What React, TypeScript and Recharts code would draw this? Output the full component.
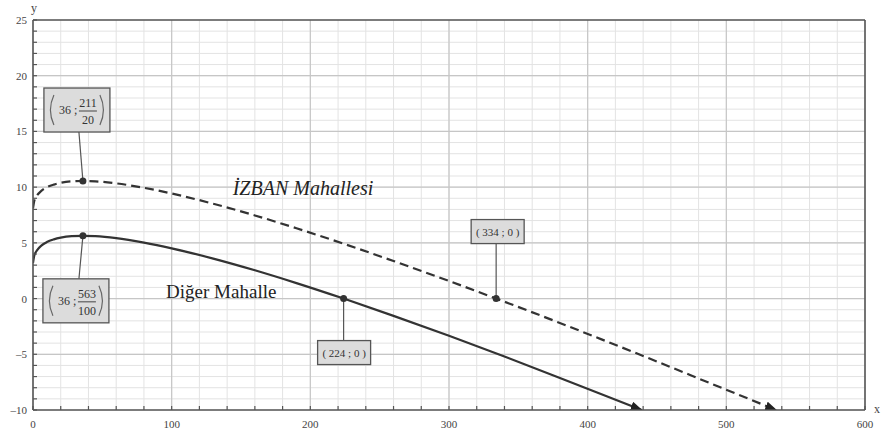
import React from "react";
import {
  LineChart,
  Line,
  XAxis,
  YAxis,
  CartesianGrid,
  ReferenceLine,
  ReferenceDot,
} from "recharts";

// Diğer Mahalle (solid)
const digerX = [0, 1, 3, 6, 10, 15, 20, 28, 36, 45, 60, 80, 100, 130, 160, 190, 224, 260, 300, 340, 380, 410, 439];
const digerY = [3.2, 3.88, 4.35, 4.75, 5.07, 5.31, 5.47, 5.6, 5.63, 5.6, 5.42, 5.02, 4.51, 3.59, 2.54, 1.39, 0, -1.55, -3.34, -5.2, -7.12, -8.58, -10];

// İZBAN Mahallesi (dashed)
const izbanX = [0, 1, 3, 6, 10, 15, 20, 28, 36, 45, 60, 80, 100, 130, 160, 190, 224, 260, 300, 334, 370, 410, 450, 490, 536];
const izbanY = [8.1, 8.8, 9.27, 9.67, 9.99, 10.23, 10.39, 10.52, 10.55, 10.52, 10.34, 9.94, 9.43, 8.51, 7.46, 6.31, 4.92, 3.37, 1.58, 0, -1.71, -3.66, -5.65, -7.68, -10];

const xLabels = [0, 100, 200, 300, 400, 500, 600];
const yLabels = [-10, -5, 0, 5, 10, 15, 20, 25];
const xMinor = Array.from({ length: 31 }, (_, i) => i * 20);
const yMinor = Array.from({ length: 36 }, (_, i) => i - 10);

const digerData = digerX.map((x, i) => ({ x, y: digerY[i] }));
const izbanData = izbanX.map((x, i) => ({ x, y: izbanY[i] }));

const FONT = "'Liberation Serif', 'DejaVu Serif', serif";
const AXIS = "#555";

const XTick = (p: any) => {
  const { x, y, payload } = p;
  const v = payload.value;
  return (
    <g>
      <line x1={x} x2={x} y1={y} y2={y - 4} stroke={AXIS} strokeWidth={1.2} />
      {xLabels.includes(v) && (
        <text x={x} y={y + 18} textAnchor="middle" fontSize={11} fontFamily={FONT} fill="#444">
          {v}
        </text>
      )}
    </g>
  );
};

const YTick = (p: any) => {
  const { x, y, payload } = p;
  const v = payload.value;
  return (
    <g>
      <line x1={x} x2={x + 4} y1={y} y2={y} stroke={AXIS} strokeWidth={1.2} />
      {yLabels.includes(v) && (
        <text x={x - 6} y={y + 4} textAnchor="end" fontSize={11} fontFamily={FONT} fill="#444">
          {v < 0 ? "\u2013" + Math.abs(v) : v}
        </text>
      )}
    </g>
  );
};

const FracBox = ({ left, top, whole, num, den }: any) => (
  <g fontFamily={FONT} fill="#333">
    <rect x={left} y={top} width={66} height={44} fill="#dcdcdc" stroke="#555" strokeWidth={1.3} />
    <path d={`M${left + 10},${top + 7} Q${left + 3},${top + 22} ${left + 10},${top + 37}`} stroke="#666" strokeWidth={1.2} fill="none" />
    <path d={`M${left + 56},${top + 7} Q${left + 63},${top + 22} ${left + 56},${top + 37}`} stroke="#666" strokeWidth={1.2} fill="none" />
    <text x={left + 15} y={top + 26} fontSize={12}>{whole} ;</text>
    <text x={left + 44} y={top + 19} fontSize={12} textAnchor="middle">{num}</text>
    <line x1={left + 35} x2={left + 53} y1={top + 23} y2={top + 23} stroke="#444" strokeWidth={1} />
    <text x={left + 44} y={top + 36} fontSize={12} textAnchor="middle">{den}</text>
  </g>
);

const SmallBox = ({ left, top, text }: any) => (
  <g fontFamily={FONT}>
    <rect x={left} y={top} width={53} height={24} fill="#dcdcdc" stroke="#555" strokeWidth={1.3} />
    <text x={left + 26.5} y={top + 16} fontSize={11} textAnchor="middle" fill="#333">{text}</text>
  </g>
);

const Pt = ({ cx, cy }: any) => <circle cx={cx} cy={cy} r={3.5} fill="#333" />;

const izbanMax = (p: any) => (
  <g>
    <line x1={p.cx - 4} y1={p.cy - 49} x2={p.cx} y2={p.cy} stroke="#555" strokeWidth={1.2} />
    <Pt cx={p.cx} cy={p.cy} />
    <FracBox left={p.cx - 39} top={p.cy - 93} whole="36" num="211" den="20" />
  </g>
);

const digerMax = (p: any) => (
  <g>
    <line x1={p.cx - 4} y1={p.cy + 43} x2={p.cx} y2={p.cy} stroke="#555" strokeWidth={1.2} />
    <Pt cx={p.cx} cy={p.cy} />
    <FracBox left={p.cx - 40} top={p.cy + 43} whole="36" num="563" den="100" />
  </g>
);

const digerZero = (p: any) => (
  <g>
    <line x1={p.cx} y1={p.cy + 42} x2={p.cx} y2={p.cy} stroke="#555" strokeWidth={1.2} />
    <Pt cx={p.cx} cy={p.cy} />
    <SmallBox left={p.cx - 26} top={p.cy + 42} text="( 224 ; 0 )" />
  </g>
);

const izbanZero = (p: any) => (
  <g>
    <line x1={p.cx} y1={p.cy - 56} x2={p.cx} y2={p.cy} stroke="#555" strokeWidth={1.2} />
    <Pt cx={p.cx} cy={p.cy} />
    <SmallBox left={p.cx - 25} top={p.cy - 79} text="( 334 ; 0 )" />
  </g>
);

const textAt = (label: string, italic: boolean) => (p: any) => (
  <text x={p.cx} y={p.cy} fontSize={italic ? 20 : 19} fontStyle={italic ? "italic" : "normal"} fontFamily={FONT} fill="#222">
    {label}
  </text>
);

const axisName = (label: string, dx: number, dy: number) => (p: any) => (
  <text x={p.cx + dx} y={p.cy + dy} fontSize={12} fontFamily={FONT} fill="#444">
    {label}
  </text>
);

export default function App() {
  return (
    <div style={{ position: "absolute", left: 0, top: 0 }}>
      <LineChart width={888} height={429} margin={{ top: 20, right: 23, bottom: 5, left: 8 }}>
        <defs>
          <marker id="arrow" markerUnits="userSpaceOnUse" markerWidth={12} markerHeight={9} refX={11} refY={4.5} orient="auto">
            <path d="M0,0 L12,4.5 L0,9 z" fill="#222" />
          </marker>
        </defs>
        <CartesianGrid stroke="#e3e3e3" strokeWidth={1} />
        {[100, 200, 300, 400, 500].map((v) => (
          <ReferenceLine key={"vx" + v} x={v} stroke="#c6c6c6" strokeWidth={1.2} />
        ))}
        {[-5, 0, 5, 10, 15, 20].map((v) => (
          <ReferenceLine key={"hy" + v} y={v} stroke="#c6c6c6" strokeWidth={1.2} />
        ))}
        <ReferenceLine y={25} stroke={AXIS} strokeWidth={1.6} />
        <ReferenceLine x={600} stroke={AXIS} strokeWidth={1.6} />
        <XAxis
          type="number"
          dataKey="x"
          domain={[0, 600]}
          ticks={xMinor}
          interval={0}
          allowDataOverflow
          height={14}
          tickSize={0}
          tickMargin={0}
          tickLine={false}
          tick={<XTick />}
          axisLine={{ stroke: AXIS, strokeWidth: 1.6 }}
        />
        <YAxis
          type="number"
          domain={[-10, 25]}
          ticks={yMinor}
          interval={0}
          allowDataOverflow
          width={25}
          tickSize={0}
          tickMargin={0}
          tickLine={false}
          tick={<YTick />}
          axisLine={{ stroke: AXIS, strokeWidth: 1.6 }}
        />
        <Line
          data={izbanData}
          dataKey="y"
          type="monotone"
          stroke="#333"
          strokeWidth={2.2}
          strokeDasharray="9 5"
          dot={false}
          activeDot={false}
          markerEnd="url(#arrow)"
          isAnimationActive={false}
        />
        <Line
          data={digerData}
          dataKey="y"
          type="monotone"
          stroke="#333"
          strokeWidth={2.2}
          dot={false}
          activeDot={false}
          markerEnd="url(#arrow)"
          isAnimationActive={false}
        />
        <ReferenceDot x={36} y={10.55} r={3.5} shape={izbanMax} />
        <ReferenceDot x={36} y={5.63} r={3.5} shape={digerMax} />
        <ReferenceDot x={224} y={0} r={3.5} shape={digerZero} />
        <ReferenceDot x={334} y={0} r={3.5} shape={izbanZero} />
        <ReferenceDot x={144} y={9.3} r={0} shape={textAt("İZBAN Mahallesi", true)} />
        <ReferenceDot x={96} y={0.05} r={0} shape={textAt("Diğer Mahalle", false)} />
        <ReferenceDot x={0} y={25} r={0} ifOverflow="visible" shape={axisName("y", -2, -8)} />
        <ReferenceDot x={600} y={-10} r={0} ifOverflow="visible" shape={axisName("x", 9, 3)} />
      </LineChart>
    </div>
  );
}
